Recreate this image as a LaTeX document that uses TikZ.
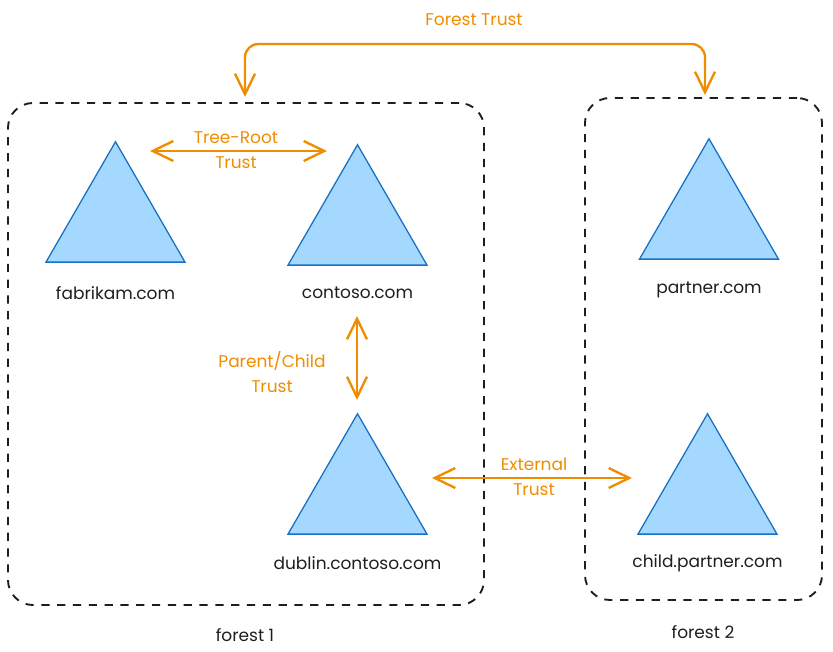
\documentclass[tikz,border=0pt]{standalone}
\usepackage{fontspec}
\setmainfont{Poppins}
\usetikzlibrary{shapes.geometric, arrows.meta}

\definecolor{trustorange}{HTML}{F08C00}
\definecolor{treefill}{HTML}{A5D8FF}
\definecolor{treeline}{HTML}{1971C2}
\definecolor{inkblack}{HTML}{1E1E1E}

\begin{document}
\begin{tikzpicture}[x=0.03cm, y=-0.03cm]

\tikzset{treetri/.style = {regular polygon, regular polygon sides=3, minimum size=4.815cm, inner sep=0pt, draw=treeline, fill=treefill, line width=1.1pt}}
\tikzset{forestbox/.style = {draw=inkblack, line width=1.6pt, dash pattern=on 7pt off 6.5pt, rounded corners=0.75cm, minimum width=14.28cm, minimum height=15.06cm}}
\tikzset{trust/.style = {draw=trustorange, line width=2pt, {Straight Barb[length=0.62cm,width=0.6cm]}-{Straight Barb[length=0.62cm,width=0.6cm]}}}
\tikzset{treename/.style = {text=inkblack, font=\fontsize{14.5}{17}\selectfont}}
\tikzset{trustlabel/.style = {text=trustorange, align=center, font=\fontsize{14.5}{21}\selectfont}}

\useasboundingbox (0,0) rectangle (833,652);
%forests
\node[forestbox] (forest1) at (246,354) {};
\node[forestbox, minimum width=7.11cm] (forest2) at (703.5,349) {};
\node[treename] (forest1name) at (245,635) {forest 1};
\node[treename] (forest2name) at (703,632) {forest 2};
%trees
\node[treetri] (fab) at (115.5,222) {};
\node[treetri] (con) at (357.5,225) {};
\node[treetri] (par) at (709,219) {};
\node[treetri] (dub) at (357.5,494) {};
\node[treetri] (chi) at (707.5,494) {};
\node[treename] (fabname) at (115.5,293) {fabrikam.com};
\node[treename] (conname) at (357.5,293) {contoso.com};
\node[treename] (parname) at (709,290) {partner.com};
\node[treename] (dubname) at (357.5,563) {dublin.contoso.com};
\node[treename] (chiname) at (707.5,563) {child.partner.com};
%trust ends
\coordinate (ft1) at (245,97);
\coordinate (ft2) at (705,95);
\coordinate (tr1) at (150,151);
\coordinate (tr2) at (327,151);
\coordinate (pc1) at (357,316);
\coordinate (pc2) at (357,400);
\coordinate (ex1) at (432,478);
\coordinate (ex2) at (632,478);
%trusts
\draw [trust, rounded corners=0.4cm] (ft1) -- (245,44) -- (705,44) -- (ft2);
\draw [trust] (tr1) -- (tr2);
\draw [trust] (pc1) -- (pc2);
\draw [trust] (ex1) -- (ex2);
\node[trustlabel] (ftlabel) at (474,20) {Forest Trust};
\node[trustlabel] (trlabel) at (236,150) {Tree-Root\\Trust};
\node[trustlabel] (pclabel) at (272,372) {Parent/Child\\Trust};
\node[trustlabel] (exlabel) at (534,477) {External\\Trust};

\end{tikzpicture}
\end{document}
